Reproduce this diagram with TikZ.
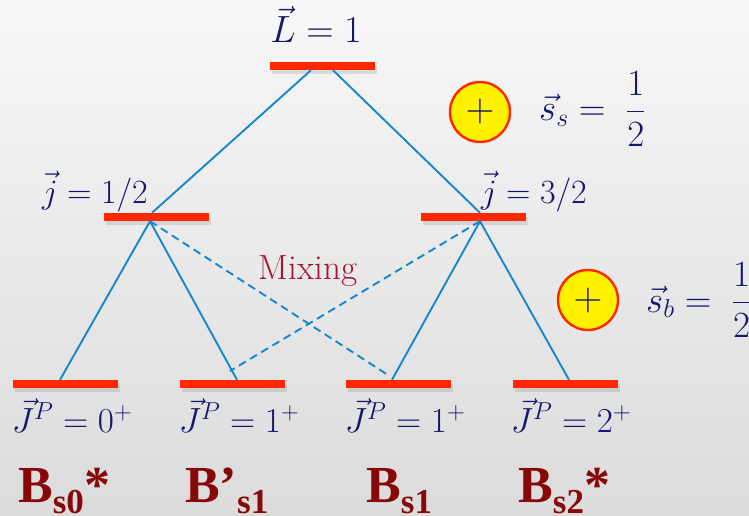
\RequirePackage{fix-cm}
\documentclass[tikz,border=0pt]{standalone}
\usepackage{fontspec}
\usepackage{amsmath}
\usetikzlibrary{calc,shadows}
\newfontfamily\statefont{Liberation Serif}
\definecolor{levelred}{RGB}{255,40,0}
\definecolor{linkblue}{RGB}{20,135,205}
\definecolor{labelnavy}{RGB}{22,22,110}
\definecolor{mixred}{RGB}{165,20,50}
\definecolor{statered}{RGB}{135,8,8}
\newcommand{\fsz}[1]{\fontsize{#1}{#1}\selectfont}

\begin{document}
\begin{tikzpicture}[x=1pt,y=-1pt,line join=round,
  lvlbar/.style={fill=levelred,inner sep=0pt,minimum width=105pt,minimum height=8pt,
    drop shadow={shadow xshift=2pt,shadow yshift=-4pt,opacity=0.22}},
  link/.style={line width=1.9pt,draw=linkblue},
  mixlink/.style={link,dash pattern=on 8pt off 5pt},
  spinbox/.style={circle,fill=yellow,draw=levelred,line width=2.4pt,minimum size=60pt,
    inner sep=0pt,text=labelnavy,font=\fsz{40}},
  qlabel/.style={inner sep=0pt,text=labelnavy,anchor=base},
  statelabel/.style={inner sep=0pt,text=statered,anchor=base west,font=\statefont\bfseries\fsz{52}}]
  \clip (0,0) rectangle (749,516);
  \shade[top color=black!3,bottom color=black!14] (0,0) rectangle (749,516);
  % levels
  \node[lvlbar] (barL) at (322.5,66) {};
  \node[lvlbar] (barJa) at (156.5,217) {};
  \node[lvlbar] (barJb) at (473.5,217) {};
  \node[lvlbar] (barS0) at (65.5,384) {};
  \node[lvlbar] (barS1a) at (232,384) {};
  \node[lvlbar] (barS1b) at (398,384) {};
  \node[lvlbar] (barS2) at (565,384) {};
  \coordinate (Lout1) at ([xshift=-11.5pt]barL.south);
  \coordinate (Lout2) at ([xshift=10.5pt]barL.south);
  \coordinate (JaIn) at ([xshift=-4.5pt]barJa.north);
  \coordinate (JaOut) at ([xshift=-6.5pt]barJa.south);
  \coordinate (JbIn) at ([xshift=6.5pt]barJb.north);
  \coordinate (JbOut) at ([xshift=6.5pt]barJb.south);
  \coordinate (S0in) at ([xshift=-5.5pt]barS0.north);
  \coordinate (S1ain) at ([xshift=5pt]barS1a.north);
  \coordinate (S1amix) at (230,371);
  \coordinate (S1bin) at ([xshift=-6pt]barS1b.north);
  \coordinate (S1bmix) at (388,375);
  \coordinate (S2in) at ([xshift=4pt]barS2.north);
  % couplings
  \draw[link] (Lout1) -- (JaIn);
  \draw[link] (Lout2) -- (JbIn);
  \draw[link] (JaOut) -- (S0in);
  \draw[link] (JaOut) -- (S1ain);
  \draw[link] (JbOut) -- (S1bin);
  \draw[link] (JbOut) -- (S2in);
  \draw[mixlink] (JaOut) -- (S1bmix);
  \draw[mixlink] (JbOut) -- (S1amix);
  % labels
  \node[qlabel,font=\fsz{38}] (labL) at (316,43) {$\vec{L}=1$};
  \node[qlabel,font=\fsz{34}] (labJa) at (95,203) {$\vec{j}=1/2$};
  \node[qlabel,font=\fsz{34}] (labJb) at (534,203) {$\vec{j}=3/2$};
  \node[qlabel,font=\fsz{35}] (labS0) at (72,432) {$\vec{J}^P=0^+$};
  \node[qlabel,font=\fsz{35}] (labS1a) at (239,432) {$\vec{J}^P=1^+$};
  \node[qlabel,font=\fsz{35}] (labS1b) at (405,432) {$\vec{J}^P=1^+$};
  \node[qlabel,font=\fsz{35}] (labS2) at (571,432) {$\vec{J}^P=2^+$};
  \node[qlabel,text=mixred,font=\fsz{35}] (labMix) at (308,279) {Mixing};
  \node[spinbox] (spinS) at (480,112) {$+$};
  \node[spinbox] (spinB) at (588,300) {$+$};
  \node[qlabel,anchor=base west,font=\fsz{37}] (labSs) at (539,121) {$\displaystyle\vec{s}_s=\;\frac{1}{2}$};
  \node[qlabel,anchor=base west,font=\fsz{37}] (labSb) at (646,312) {$\displaystyle\vec{s}_b=\;\frac{1}{2}$};
  % states
  \node[statelabel] (nameS0) at (18,502) {B\raisebox{-11pt}{\fsz{35}s0}*};
  \node[statelabel] (nameS1a) at (185,502) {B’\raisebox{-11pt}{\fsz{35}s1}};
  \node[statelabel] (nameS1b) at (366,502) {B\raisebox{-11pt}{\fsz{35}s1}};
  \node[statelabel] (nameS2) at (518,502) {B\raisebox{-11pt}{\fsz{35}s2}*};
\end{tikzpicture}
\end{document}
